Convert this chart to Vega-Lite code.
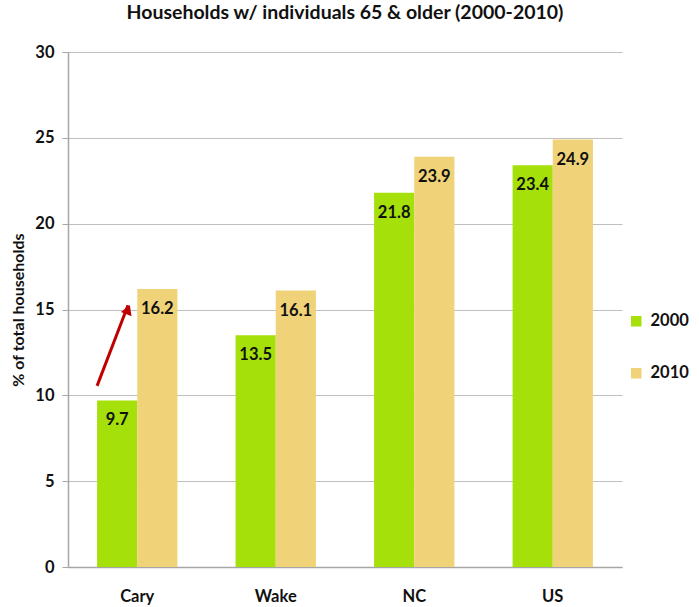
{
  "$schema": "https://vega.github.io/schema/vega-lite/v6.json",
  "autosize": "none",
  "width": 554,
  "height": 515,
  "padding": {"left": 68, "top": 52, "right": 77, "bottom": 40},
  "background": "white",
  "title": {"text": "Households w/ individuals 65 & older (2000-2010)", "font": "Lato", "fontSize": 19.5, "fontWeight": "bold", "color": "#111111", "anchor": "middle", "offset": 21},
  "config": {"view": {"stroke": null}, "font": "Lato"},
  "datasets": {
    "bars": [
      {"region": "Cary", "year": "2000", "value": 9.7},
      {"region": "Cary", "year": "2010", "value": 16.2},
      {"region": "Wake", "year": "2000", "value": 13.5},
      {"region": "Wake", "year": "2010", "value": 16.1},
      {"region": "NC", "year": "2000", "value": 21.8},
      {"region": "NC", "year": "2010", "value": 23.9},
      {"region": "US", "year": "2000", "value": 23.4},
      {"region": "US", "year": "2010", "value": 24.9}
    ],
    "arrow": [
      {"region": "Cary", "pos": 0.0, "value": 10.55},
      {"region": "Cary", "pos": 0.385, "value": 15.25}
    ],
    "arrowhead": [
      {"region": "Cary", "pos": 0.385, "value": 15.0}
    ]
  },
  "encoding": {
    "x": {"field": "region", "type": "nominal", "sort": ["Cary", "Wake", "NC", "US"],
      "scale": {"paddingInner": 0.42, "paddingOuter": 0.21},
      "axis": {"title": null, "labelAngle": 0, "ticks": false, "labelPadding": 21, "labelFontSize": 16.5, "labelFontWeight": "bold", "labelColor": "#111111", "domainColor": "#a6a6a6", "domainWidth": 1.5, "grid": false}}
  },
  "layer": [
    {
      "data": {"name": "bars"},
      "mark": {"type": "bar"},
      "encoding": {
        "xOffset": {"field": "year", "type": "nominal"},
        "y": {"field": "value", "type": "quantitative", "scale": {"domain": [0, 30]},
          "axis": {"title": "% of total households", "values": [0, 5, 10, 15, 20, 25, 30], "titleFontSize": 16, "titleFontWeight": "bold", "titleColor": "#111111", "titlePadding": 8, "labelFontSize": 16.5, "labelFontWeight": "bold", "labelColor": "#111111", "labelPadding": 8, "tickSize": 6, "tickColor": "#a6a6a6", "domainColor": "#a6a6a6", "domainWidth": 1.5, "gridColor": "#bfbfbf", "gridWidth": 1.2}},
        "color": {"field": "year", "type": "nominal", "scale": {"domain": ["2000", "2010"], "range": ["#a6e00a", "#f0d378"]},
          "legend": {"title": null, "orient": "none", "legendX": 560, "legendY": 261, "symbolType": "square", "symbolSize": 110, "symbolStrokeWidth": 0, "labelFontSize": 16.5, "labelFontWeight": "bold", "labelColor": "#111111", "rowPadding": 35, "labelOffset": 6}}
      }
    },
    {
      "data": {"name": "bars"},
      "mark": {"type": "text", "baseline": "middle", "dy": 20, "fontSize": 16.5, "fontWeight": "bold", "color": "#111111"},
      "encoding": {
        "xOffset": {"field": "year", "type": "nominal"},
        "y": {"field": "value", "type": "quantitative"},
        "text": {"field": "value", "type": "quantitative", "format": ".1f"}
      }
    },
    {
      "data": {"name": "arrow"},
      "mark": {"type": "line", "color": "#c00000", "strokeWidth": 3},
      "encoding": {
        "xOffset": {"field": "pos", "type": "quantitative", "scale": {"domain": [0, 1]}},
        "y": {"field": "value", "type": "quantitative"}
      }
    },
    {
      "data": {"name": "arrowhead"},
      "mark": {"type": "point", "shape": "triangle-up", "filled": true, "color": "#c00000", "size": 130, "angle": 21, "opacity": 1},
      "encoding": {
        "xOffset": {"field": "pos", "type": "quantitative", "scale": {"domain": [0, 1]}},
        "y": {"field": "value", "type": "quantitative"}
      }
    }
  ],
  "resolve": {"scale": {"xOffset": "independent"}}
}
